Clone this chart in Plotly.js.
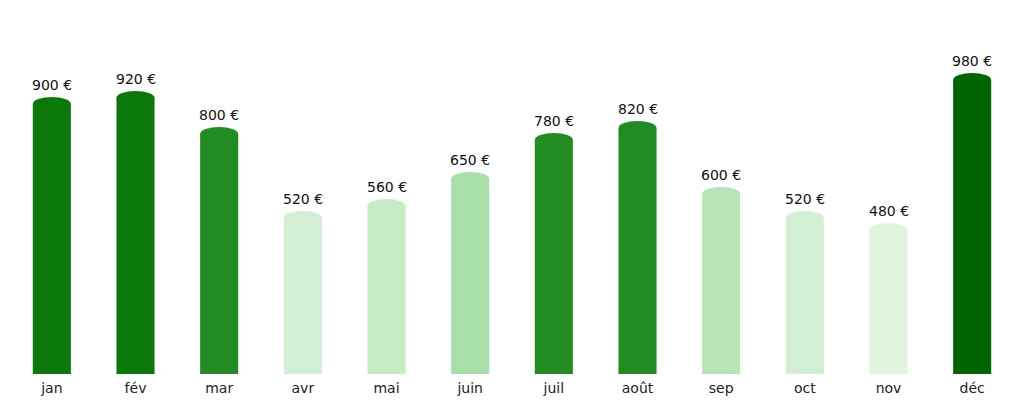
<!DOCTYPE html>
<html>
<head>
<meta charset="utf-8">
<script src="https://cdn.plot.ly/plotly-3.0.1.min.js"></script>
<style>
  html, body { margin: 0; padding: 0; background: #fff; }
  #plot { width: 1024px; height: 404px; }
</style>
</head>
<body>
<div id="plot"></div>
<script>
// données mensuelles
const months = ["jan", "fév", "mar", "avr", "mai", "juin", "juil", "août", "sep", "oct", "nov", "déc"];
const amounts = [900, 920, 800, 520, 560, 650, 780, 820, 600, 520, 480, 980];

// couleur selon le montant
let colorFor = (v) => {
    if (v >= 950) return "#006400";
    if (v >= 850) return "#0a790a";
    if (v >= 700) return "#228b22";
    if (v >= 640) return "#a8dea8";
    if (v >= 590) return "#b8e4b8";
    if (v >= 540) return "#c6ebc6";
    if (v >= 500) return "#d3efd3";
    return "#dff5df";
};

main = () => {
    const colors = amounts.map(colorFor);
    const idx = months.map((m, i) => i);

    // capuchons arrondis en haut des barres
    let caps = idx.map(i => ({
        type: "circle",
        xref: "x", yref: "y",
        xsizemode: "pixel", ysizemode: "pixel",
        xanchor: i, yanchor: amounts[i],
        x0: -19, x1: 19, y0: -7, y1: 7,
        fillcolor: colors[i],
        line: { width: 0 },
        layer: "above"
    }));

    let labels = idx.map(i => ({
        x: i, y: amounts[i],
        xref: "x", yref: "y",
        text: amounts[i] + " €",
        showarrow: false,
        yanchor: "bottom",
        yshift: 9,
        font: { family: "DejaVu Sans", size: 14, color: "#111" }
    }));

    Plotly.newPlot("plot", [{
        type: "bar",
        x: idx,
        y: amounts,
        width: 0.455,
        marker: { color: colors, line: { width: 0 } },
        hoverinfo: "none"
    }], {
        width: 1024,
        height: 404,
        margin: { l: 10, r: 10, t: 20, b: 30 },
        paper_bgcolor: "#fff",
        plot_bgcolor: "#fff",
        showlegend: false,
        xaxis: {
            range: [-0.5, 11.5],
            tickmode: "array",
            tickvals: idx,
            ticktext: months,
            showgrid: false,
            zeroline: false,
            showline: false,
            ticks: "outside",
            ticklen: 1,
            tickcolor: "rgba(0,0,0,0)",
            tickfont: { family: "DejaVu Sans", size: 14, color: "#222" }
        },
        yaxis: {
            range: [0, 1180],
            visible: false,
            showgrid: false,
            zeroline: false
        },
        shapes: caps,
        annotations: labels
    }, { staticPlot: true });
};

main();
</script>
</body>
</html>
